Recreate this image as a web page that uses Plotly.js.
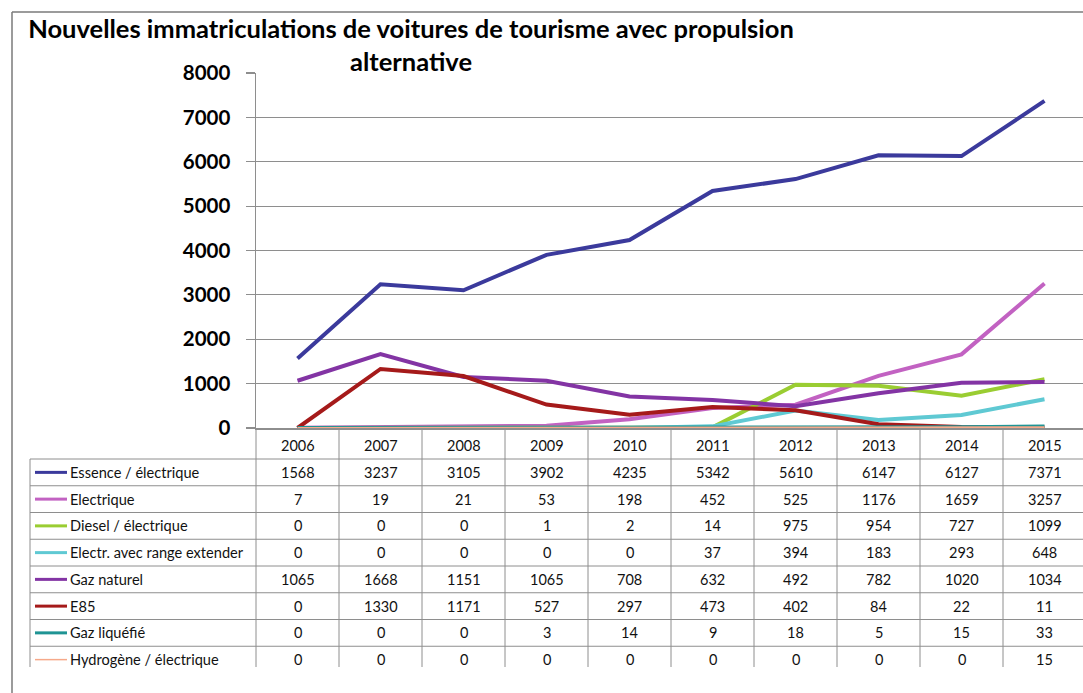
<!DOCTYPE html>
<html>
<head>
<meta charset="utf-8">
<script src="https://cdn.plot.ly/plotly-3.0.1.min.js"></script>
<style>html,body{margin:0;padding:0;background:#fff;}#chart{width:1083px;height:693px;}</style>
</head>
<body>
<div id="chart"></div>
<script>
// ---- data ----
var years = ['2006','2007','2008','2009','2010','2011','2012','2013','2014','2015'];
var seriesNames = ['Essence / électrique','Electrique','Diesel / électrique','Electr. avec range extender','Gaz naturel','E85','Gaz liquéfié','Hydrogène / électrique'];
var essenceElectrique = [1568,3237,3105,3902,4235,5342,5610,6147,6127,7371];
var electrique        = [7,19,21,53,198,452,525,1176,1659,3257];
var dieselElectrique  = [0,0,0,1,2,14,975,954,727,1099];
var rangeExtender     = [0,0,0,0,0,37,394,183,293,648];
var gazNaturel        = [1065,1668,1151,1065,708,632,492,782,1020,1034];
var e85               = [0,1330,1171,527,297,473,402,84,22,11];
var gazLiquefie       = [0,0,0,3,14,9,18,5,15,33];
var hydrogene         = [0,0,0,0,0,0,0,0,0,15];
var yTicks = [0,1000,2000,3000,4000,5000,6000,7000,8000];

// ---- styles ----
var allValues = [essenceElectrique, electrique, dieselElectrique, rangeExtender, gazNaturel, e85, gazLiquefie, hydrogene];
var colors = ['#3b3a9c','#c262c2','#9acd32','#5fc9d3','#8334a4','#a51a1a','#1f9494','#f6a98a'];
var widths = [4,4,4,4,4,4,4,2];

// geometry (pixels)
var W = 1083, H = 693;
var plotL = 256, plotR = 1083, plotT = 73, plotB = 428;
function px2x(px){ return (px - plotL) / (plotR - plotL); }
function py2y(py){ return (plotB - py) / (plotB - plotT); }
var headerCenter = 445, rowTop = 459, rowH = 26.75, tableBottom = 667;
var labelLeft = 30, keyX0 = 35, keyX1 = 67, textX = 68;
var gridColor = '#8e8e8e';
var fontFam = 'Lato, "Open Sans", sans-serif';
var textColor = '#111111';

var traces = allValues.map(function(vals, i){
  return {
    type: 'scatter', mode: 'lines', x: years, y: vals, name: seriesNames[i],
    line: {color: colors[i], width: widths[i]}, showlegend: false,
    hoverinfo: 'x+y+name'
  };
});

var shapes = [];
var annotations = [];
// outer frame
shapes.push({type:'line', xref:'paper', yref:'paper', x0:px2x(12), x1:px2x(12), y0:py2y(12), y1:py2y(H), line:{color:'#7a7a7a', width:1.5}});
shapes.push({type:'line', xref:'paper', yref:'paper', x0:px2x(12), x1:px2x(W), y0:py2y(12), y1:py2y(12), line:{color:'#7a7a7a', width:1.5}});
// table horizontal lines
for (var r = 0; r < seriesNames.length; r++) {
  var yy = py2y(rowTop + r * rowH);
  shapes.push({type:'line', xref:'paper', yref:'paper', x0:px2x(labelLeft), x1:px2x(W), y0:yy, y1:yy, line:{color:gridColor, width:1}});
}
// table vertical lines
shapes.push({type:'line', xref:'paper', yref:'paper', x0:px2x(labelLeft), x1:px2x(labelLeft), y0:py2y(rowTop), y1:py2y(tableBottom), line:{color:gridColor, width:1}});
shapes.push({type:'line', xref:'paper', yref:'paper', x0:0, x1:0, y0:0, y1:py2y(tableBottom), line:{color:gridColor, width:1}});
for (var k = 0; k < years.length - 1; k++) {
  shapes.push({type:'line', xref:'x', yref:'paper', x0:k + 0.5, x1:k + 0.5, y0:0, y1:py2y(tableBottom), line:{color:gridColor, width:1}});
}
// legend keys, labels and values
for (var s = 0; s < seriesNames.length; s++) {
  var cy = py2y(rowTop + s * rowH + rowH / 2);
  shapes.push({type:'line', xref:'paper', yref:'paper', x0:px2x(keyX0), x1:px2x(keyX1), y0:cy, y1:cy, line:{color:colors[s], width: s === 7 ? 1.5 : 3}});
  annotations.push({xref:'paper', yref:'paper', x:px2x(textX), y:cy, xanchor:'left', yanchor:'middle', showarrow:false, text:seriesNames[s], font:{family:fontFam, size:14.6, color:textColor}});
  for (var c = 0; c < years.length; c++) {
    annotations.push({xref:'x', yref:'paper', x:c, y:cy, xanchor:'center', yanchor:'middle', showarrow:false, text:String(allValues[s][c]), font:{family:fontFam, size:14.5, color:textColor}});
  }
}
// header row (years)
for (var h = 0; h < years.length; h++) {
  annotations.push({xref:'x', yref:'paper', x:h, y:py2y(headerCenter), xanchor:'center', yanchor:'middle', showarrow:false, text:years[h], font:{family:fontFam, size:14.5, color:textColor}});
}

var layout = {
  width: W, height: H,
  paper_bgcolor: '#ffffff', plot_bgcolor: '#ffffff',
  margin: {l: plotL, r: W - plotR, t: plotT, b: H - plotB, pad: 0},
  title: {
    text: 'Nouvelles immatriculations de voitures de tourisme avec propulsion<br>alternative',
    font: {family: fontFam, size: 25.5, weight: 'bold', color: '#000'},
    xref: 'container', yref: 'container', x: 411 / W, xanchor: 'center', y: 1 - 38 / H, yanchor: 'top'
  },
  xaxis: {
    type: 'category', range: [-0.5, (plotR - plotL) / 83 - 0.5],
    showticklabels: false, showgrid: false, zeroline: false,
    showline: true, linecolor: gridColor, linewidth: 1.5, ticks: '', fixedrange: true
  },
  yaxis: {
    range: [0, 8000], tickvals: yTicks, ticktext: yTicks.map(String),
    showgrid: true, gridcolor: gridColor, gridwidth: 1.2, zeroline: false,
    showline: true, linecolor: gridColor, linewidth: 1.5,
    ticks: 'outside', ticklen: 9, tickcolor: gridColor, tickwidth: 1.2,
    ticklabelstandoff: 11,
    tickfont: {family: fontFam, size: 20.5, weight: 'bold', color: '#000'}, fixedrange: true
  },
  shapes: shapes,
  annotations: annotations
};

Plotly.newPlot('chart', traces, layout, {displayModeBar: false, staticPlot: true});
</script>
</body>
</html>
